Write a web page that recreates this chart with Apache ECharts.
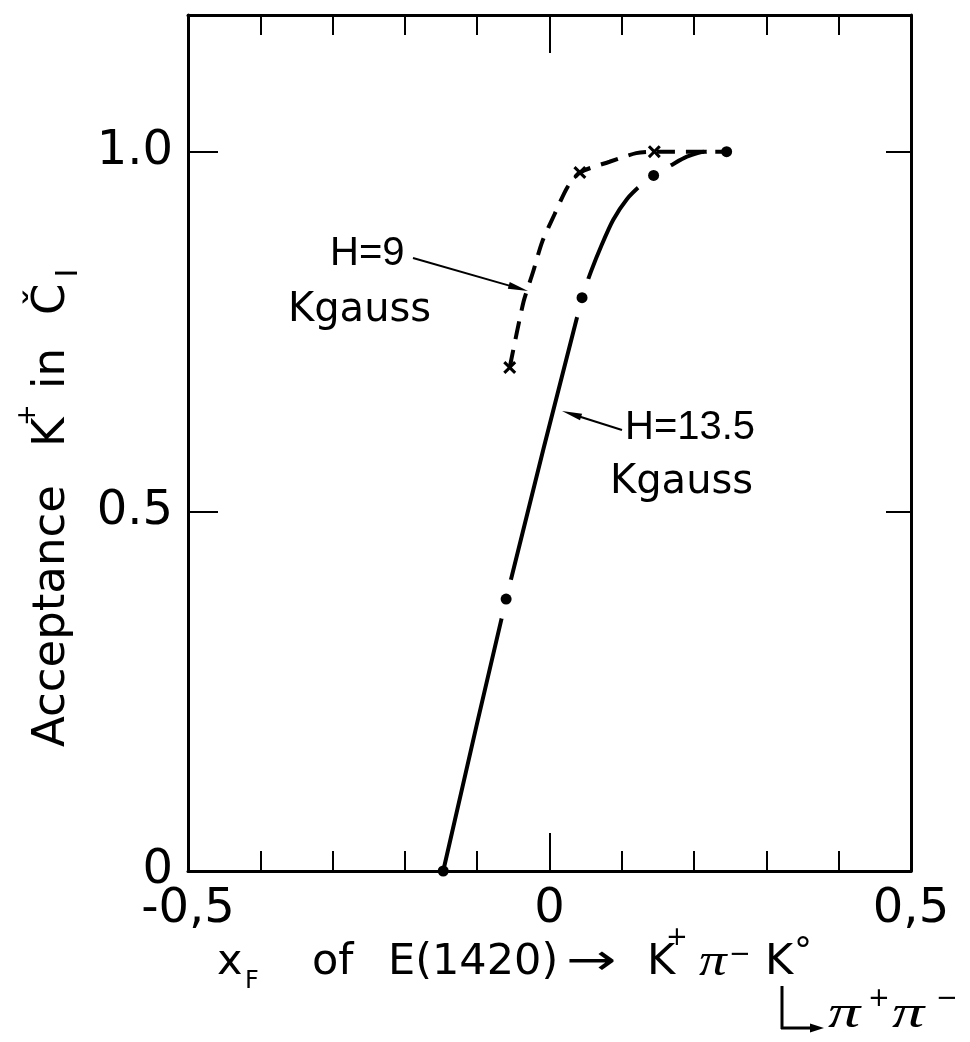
<!DOCTYPE html>
<html>
<head>
<meta charset="utf-8">
<script src="https://cdn.jsdelivr.net/npm/echarts@6/dist/echarts.min.js"></script>
<style>
  html, body { margin: 0; padding: 0; background: #fff; }
  #chart { width: 970px; height: 1042px; }
</style>
</head>
<body>
<div id="chart"></div>
<script>
// H = 13.5 kG: measured acceptance (filled dots)
const h135Points = [[-0.147, 0.0], [-0.060, 0.378], [0.045, 0.797], [0.144, 0.967], [0.245, 1.0]];
// H = 13.5 kG: solid curve drawn through the measurements
const h135Curve = [[-0.147, 0.0], [-0.060, 0.378], [0.045, 0.797], [0.058, 0.835], [0.072, 0.870],
                   [0.088, 0.905], [0.107, 0.934], [0.127, 0.954], [0.144, 0.967], [0.168, 0.981],
                   [0.190, 0.993], [0.215, 1.0], [0.245, 1.0]];
// H = 9 kG: measured acceptance (crosses)
const h9Points = [[-0.055, 0.700], [0.042, 0.971], [0.145, 1.0]];
// H = 9 kG: dashed curve
const h9Curve = [[-0.055, 0.700], [-0.036, 0.791], [-0.023, 0.832], [-0.010, 0.875], [0.007, 0.913],
                 [0.025, 0.951], [0.042, 0.971], [0.083, 0.986], [0.120, 0.998], [0.145, 1.0], [0.245, 1.0]];
// Tick labels shown on the axes
const xTickLabels = { '-0.5': '-0,5', '0': '0', '0.5': '0,5' };
const yTickLabels = { '0': '0', '0.5': '0.5', '1': '1.0' };

const INK = '#000';
const FONT = 'DejaVu Sans';

function pickLabel(map) {
  return function (v) {
    const key = String(Math.round(v * 100) / 100);
    return Object.prototype.hasOwnProperty.call(map, key) ? map[key] : '';
  };
}

function xAxisDef(position, interval, tickLen, withLabels, withLine) {
  return {
    type: 'value', position: position, min: -0.5, max: 0.5, interval: interval,
    axisLine: { show: withLine, onZero: false, lineStyle: { color: INK, width: 3 } },
    axisTick: { show: true, inside: true, length: tickLen, lineStyle: { color: INK, width: 2 } },
    axisLabel: withLabels ? {
      show: true, formatter: pickLabel(xTickLabels), margin: 15,
      fontFamily: FONT, fontSize: 48, color: INK
    } : { show: false },
    splitLine: { show: false }
  };
}

function yAxisDef(position, tickLen, withLabels) {
  return {
    type: 'value', position: position, min: 0, max: 1.19, interval: 0.5,
    axisLine: { show: true, onZero: false, lineStyle: { color: INK, width: 3 } },
    axisTick: { show: true, inside: true, length: tickLen, lineStyle: { color: INK, width: 2 } },
    axisLabel: withLabels ? {
      show: true, formatter: pickLabel(yTickLabels), margin: 15,
      fontFamily: FONT, fontSize: 48, color: INK
    } : { show: false },
    splitLine: { show: false }
  };
}

// X-shaped marker for the 9 kG points
const crossPath = 'path://M0,2 L2,0 L6,4 L10,0 L12,2 L8,6 L12,10 L10,12 L6,8 L2,12 L0,10 L4,6 Z';

function txt(s, x, y, size, extra, family, fontStyle) {
  const el = {
    type: 'text', x: x, y: y, z: 100,
    style: {
      text: s, font: (fontStyle ? fontStyle + ' ' : '') + size + 'px "' + (family || FONT) + '"', fill: INK,
      textAlign: 'left', align: 'left', textVerticalAlign: 'middle', verticalAlign: 'middle'
    }
  };
  if (extra) {
    if (extra.center) { el.style.textAlign = 'center'; el.style.align = 'center'; }
    if (extra.rotate) el.rotation = Math.PI / 2;
    if (extra.scaleX) el.scaleX = extra.scaleX;
  }
  return el;
}

function arrow(x1, y1, x2, y2, headLen, headW, width) {
  const a = Math.atan2(y2 - y1, x2 - x1);
  const bx = x2 - headLen * Math.cos(a), by = y2 - headLen * Math.sin(a);
  const nx = -Math.sin(a) * headW / 2, ny = Math.cos(a) * headW / 2;
  return [
    { type: 'line', z: 100, shape: { x1: x1, y1: y1, x2: bx + (x2 - bx) * 0.3, y2: by + (y2 - by) * 0.3 },
      style: { stroke: INK, lineWidth: width } },
    { type: 'polygon', z: 100, shape: { points: [[x2, y2], [bx + nx, by + ny], [bx - nx, by - ny]] },
      style: { fill: INK } }
  ];
}

const graphics = [].concat(
  // y-axis title, reading upward
  [
    txt('Acceptance', 52, 747, 45, { rotate: true }),
    txt('K', 52, 447, 45, { rotate: true }),
    txt('+', 28, 415, 26, { rotate: true, center: true }),
    txt('in', 52, 389, 45, { rotate: true }),
    txt('Č', 52, 315, 45, { rotate: true }),
    txt('I', 69, 273, 30, { rotate: true, center: true })
  ],
  // x-axis title, first line
  [
    txt('x', 217, 963, 43),
    txt('F', 245, 982, 24),
    txt('of', 312, 963, 43),
    txt('E(1420)', 388, 963, 43),
    txt('→', 566, 963, 43, { scaleX: 1.4 }),
    txt('K', 647, 963, 43),
    txt('+', 677, 938, 26, { center: true }),
    txt('π', 699, 963, 46, { scaleX: 1.2 }, 'Liberation Serif', 'italic'),
    txt('−', 740, 955, 26, { center: true }),
    txt('K', 765, 963, 43),
    txt('°', 803, 953, 36, { center: true })
  ],
  // decay of the K° on the second line
  [
    { type: 'line', z: 100, shape: { x1: 782, y1: 986, x2: 782, y2: 1029 }, style: { stroke: INK, lineWidth: 3 } }
  ],
  arrow(781, 1028, 824, 1028, 14, 9, 3),
  [
    txt('π', 828, 1015, 46, { scaleX: 1.4 }, 'Liberation Serif', 'italic'),
    txt('+', 879, 999, 26, { center: true }),
    txt('π', 892, 1015, 46, { scaleX: 1.4 }, 'Liberation Serif', 'italic'),
    txt('−', 947, 999, 26, { center: true })
  ],
  // curve annotations
  [
    txt('H=9', 330, 254, 40, null, 'Liberation Sans'),
    txt('Kgauss', 288, 311, 40),
    txt('H=13.5', 625, 428, 40, null, 'Liberation Sans'),
    txt('Kgauss', 610, 483, 40)
  ],
  arrow(413, 258, 528, 291, 20, 7, 2),
  arrow(622, 430, 562, 411, 20, 7, 2)
);

const chart = echarts.init(document.getElementById('chart'), null, { renderer: 'canvas' });
chart.setOption({
  animation: false,
  backgroundColor: '#fff',
  grid: { left: 188, right: 59, top: 15, bottom: 171, outerBoundsMode: 'none', containLabel: false },
  xAxis: [
    xAxisDef('bottom', 0.1, 20, true, true),
    xAxisDef('bottom', 0.5, 38, false, false),
    xAxisDef('top', 0.1, 20, false, true),
    xAxisDef('top', 0.5, 38, false, false)
  ],
  yAxis: [
    yAxisDef('left', 30, true),
    yAxisDef('right', 25, false)
  ],
  series: [
    {
      name: 'H=13.5 Kgauss', type: 'line', data: h135Curve, xAxisIndex: 0, yAxisIndex: 0,
      smooth: 0.25, symbol: 'none', showSymbol: false,
      lineStyle: { color: INK, width: 4 }, z: 2, silent: true
    },
    {
      // white rings that open small gaps in the solid curve around each dot
      type: 'scatter', data: h135Points.filter(function (p) { return p[1] > 0; }),
      symbol: 'circle', symbolSize: 40, itemStyle: { color: '#fff', opacity: 1 }, z: 3, silent: true
    },
    {
      name: 'H=9 Kgauss', type: 'line', data: h9Curve, xAxisIndex: 0, yAxisIndex: 0,
      smooth: 0.25, symbol: 'none', showSymbol: false,
      lineStyle: { color: INK, width: 4, type: [18, 11] }, z: 4, silent: true
    },
    {
      type: 'scatter', data: h135Points, symbol: 'circle', symbolSize: 11,
      itemStyle: { color: INK, opacity: 1 }, z: 5, silent: true
    },
    {
      type: 'scatter', data: h9Points, symbol: crossPath, symbolSize: 13,
      itemStyle: { color: INK, opacity: 1 }, z: 5, silent: true
    }
  ],
  graphic: { elements: graphics }
});
</script>
</body>
</html>
